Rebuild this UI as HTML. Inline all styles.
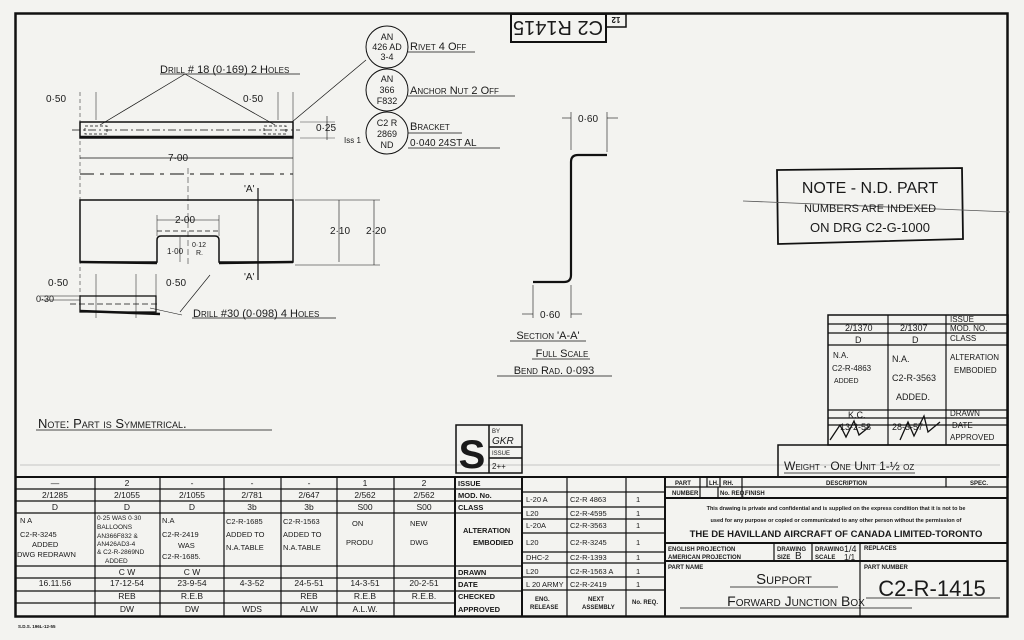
<!DOCTYPE html>
<html><head><meta charset="utf-8"><style>
html,body{margin:0;padding:0;background:#f3f3f0;}
svg{display:block;}
text{font-family:"Liberation Sans",sans-serif;fill:#1a1a1a;}
.h{font-variant:small-caps;font-size:11px;}
.s{font-size:10px;}
.b{font-weight:bold;font-size:7.5px;}
.t{font-size:6px;font-weight:bold;}
</style></head><body>
<svg width="1024" height="640" viewBox="0 0 1024 640" xmlns="http://www.w3.org/2000/svg">
<rect width="1024" height="640" fill="#f3f3f0"/>
<g stroke="#111" fill="none">
<rect x="15.5" y="13.5" width="992" height="603" stroke-width="2.5"/>
<rect x="511" y="14" width="95" height="28" stroke-width="2"/>
<rect x="606" y="14" width="20" height="13" stroke-width="1.5"/>
</g>
<text x="558" y="35" transform="rotate(180 558 28)" text-anchor="middle" font-size="20">C2 R1415</text>
<text x="616" y="24" text-anchor="middle" font-size="8" font-weight="bold" transform="rotate(180 616 20.5)">12</text>

<g stroke="#111" fill="none" stroke-width="1">
<rect x="80" y="122" width="213" height="16" stroke-width="1.5"/>
<line x1="80" y1="137" x2="293" y2="137" stroke-width="2.5"/>
<line x1="72" y1="130" x2="300" y2="130" stroke-dasharray="8,3,2,3" stroke-width="0.7"/>
<rect x="85" y="126" width="22" height="8" stroke-dasharray="3,2" stroke-width="0.8"/>
<rect x="264" y="126" width="22" height="8" stroke-dasharray="3,2" stroke-width="0.8"/>
<line x1="185" y1="74" x2="100" y2="125" stroke-width="0.7"/>
<line x1="185" y1="74" x2="275" y2="125" stroke-width="0.7"/>
<line x1="366" y1="60" x2="292" y2="122" stroke-width="0.7"/>
<line x1="80" y1="92" x2="80" y2="300" stroke-width="0.5" stroke-dasharray="4,3"/>
<line x1="96" y1="92" x2="96" y2="120" stroke-width="0.5"/>
<line x1="293" y1="92" x2="293" y2="200" stroke-width="0.5"/>
<line x1="278" y1="92" x2="278" y2="120" stroke-width="0.5"/>
<line x1="80" y1="158" x2="293" y2="158" stroke-width="0.7"/>
<line x1="80" y1="174" x2="293" y2="174" stroke-width="1" stroke-dasharray="14,6,4,6"/>
<line x1="188" y1="168" x2="188" y2="265" stroke-width="0.5" stroke-dasharray="6,3"/>
<line x1="327" y1="116" x2="327" y2="140" stroke-width="0.6"/>
<line x1="300" y1="122" x2="335" y2="122" stroke-width="0.4"/>
<line x1="300" y1="138" x2="335" y2="138" stroke-width="0.4"/>
<path d="M80 200 H293 V262 H219 V240 Q219 236 215 236 H161 Q157 236 157 240 V262 H80 Z" stroke-width="1.5"/>
<line x1="80" y1="262" x2="157" y2="263" stroke-width="2.5"/>
<line x1="219" y1="263" x2="293" y2="262" stroke-width="2.5"/>
<line x1="258" y1="188" x2="258" y2="280" stroke-width="1.2"/>
<line x1="295" y1="200" x2="380" y2="200" stroke-width="0.5"/>
<line x1="295" y1="265" x2="380" y2="265" stroke-width="0.5"/>
<line x1="339" y1="200" x2="339" y2="262" stroke-width="0.6"/>
<line x1="374" y1="200" x2="374" y2="265" stroke-width="0.6"/>
<line x1="157" y1="220" x2="219" y2="220" stroke-width="0.6"/>
<line x1="157" y1="231" x2="219" y2="231" stroke-width="0.8" stroke-dasharray="5,3"/>
<line x1="157" y1="215" x2="157" y2="236" stroke-width="0.5"/>
<line x1="219" y1="215" x2="219" y2="236" stroke-width="0.5"/>
<line x1="180" y1="237" x2="180" y2="262" stroke-width="0.5"/>
<line x1="210" y1="275" x2="180" y2="312" stroke-width="0.6"/>
<rect x="80" y="296" width="76" height="16" stroke-width="1.3"/>
<line x1="80" y1="311" x2="160" y2="314" stroke-width="2.5"/>
<line x1="96" y1="274" x2="96" y2="318" stroke-width="0.5"/>
<line x1="136" y1="274" x2="136" y2="318" stroke-width="0.5"/>
<line x1="156" y1="274" x2="156" y2="296" stroke-width="0.5"/>
<line x1="70" y1="304" x2="160" y2="304" stroke-width="0.7" stroke-dasharray="6,3"/>
<line x1="182" y1="315" x2="150" y2="308" stroke-width="0.6"/>
<line x1="40" y1="296" x2="80" y2="296" stroke-width="0.5"/>
<line x1="40" y1="300" x2="80" y2="300" stroke-width="0.5"/>
<circle cx="387" cy="47" r="21"/>
<circle cx="387" cy="90" r="21"/>
<circle cx="387" cy="133" r="21"/>
<line x1="408" y1="52" x2="475" y2="52" stroke-width="0.7"/>
<line x1="408" y1="96" x2="515" y2="96" stroke-width="0.7"/>
<line x1="408" y1="133" x2="462" y2="133" stroke-width="0.7"/>
<line x1="408" y1="148" x2="500" y2="148" stroke-width="0.7"/>
<line x1="160" y1="74" x2="300" y2="74" stroke-width="0.7"/>
<line x1="192" y1="318" x2="336" y2="318" stroke-width="0.7"/>
<path d="M607 155 H578 Q571 155 571 162 V275 Q571 282 564 282 H533" stroke-width="2.2"/>
<line x1="571" y1="112" x2="571" y2="150" stroke-width="0.6"/>
<line x1="607" y1="112" x2="607" y2="152" stroke-width="0.6"/>
<line x1="533" y1="285" x2="533" y2="318" stroke-width="0.6"/>
<line x1="571" y1="285" x2="571" y2="318" stroke-width="0.6"/>
<line x1="562" y1="118" x2="571" y2="118" stroke-width="0.6"/>
<line x1="607" y1="118" x2="618" y2="118" stroke-width="0.6"/>
<line x1="522" y1="314" x2="533" y2="314" stroke-width="0.6"/>
<line x1="571" y1="314" x2="582" y2="314" stroke-width="0.6"/>
<line x1="510" y1="341" x2="586" y2="341" stroke-width="0.8"/>
<line x1="532" y1="359" x2="590" y2="359" stroke-width="0.8"/>
<line x1="497" y1="376" x2="612" y2="376" stroke-width="0.8"/>
<line x1="36" y1="430" x2="272" y2="430" stroke-width="0.8"/>
<polygon points="777,170 962,168 963,239 778,244" stroke-width="1.8"/>
<line x1="743" y1="201" x2="1010" y2="212" stroke-width="0.8" stroke="#555"/>
<line x1="20" y1="465" x2="1000" y2="465" stroke-width="0.6" stroke="#999"/>
</g>
<text x="160" y="73" class="h">Drill # 18 (0·169) 2 Holes</text>
<text x="46" y="102" class="s">0·50</text>
<text x="243" y="102" class="s">0·50</text>
<text x="316" y="131" class="s">0·25</text>
<text x="168" y="161" class="s">7·00</text>
<text x="244" y="192" class="s">'A'</text>
<text x="244" y="280" class="s">'A'</text>
<text x="175" y="223" class="s">2·00</text>
<text x="167" y="254" font-size="8">1·00</text>
<text x="192" y="247" font-size="7">0·12</text><text x="196" y="255" font-size="7">R.</text>
<text x="330" y="234" class="s">2·10</text>
<text x="366" y="234" class="s">2·20</text>
<text x="48" y="286" class="s">0·50</text>
<text x="166" y="286" class="s">0·50</text>
<text x="36" y="302" font-size="9">0·30</text>
<text x="193" y="317" class="h">Drill #30 (0·098) 4 Holes</text>
<g font-size="9" text-anchor="middle">
<text x="387" y="40">AN</text><text x="387" y="50">426 AD</text><text x="387" y="60">3-4</text>
<text x="387" y="82">AN</text><text x="387" y="93">366</text><text x="387" y="104">F832</text>
<text x="387" y="126">C2 R</text><text x="387" y="137">2869</text><text x="387" y="148">ND</text>
</g>
<text x="410" y="50" class="h">Rivet 4 Off</text>
<text x="410" y="94" class="h">Anchor Nut 2 Off</text>
<text x="410" y="130" class="h">Bracket</text>
<text x="410" y="146" class="s">0·040 24ST AL</text>
<text x="344" y="143" font-size="8">Iss 1</text>
<text x="578" y="122" class="s">0·60</text>
<text x="540" y="318" class="s">0·60</text>
<text x="548" y="339" text-anchor="middle" class="h">Section 'A-A'</text>
<text x="562" y="357" text-anchor="middle" class="h">Full Scale</text>
<text x="554" y="374" text-anchor="middle" class="h">Bend Rad. 0·093</text>
<text x="38" y="428" class="h" style="font-size:13px">Note: Part is Symmetrical.</text>
<text x="870" y="193" text-anchor="middle" font-size="16">NOTE - N.D. PART</text>
<text x="870" y="212" text-anchor="middle" font-size="11">NUMBERS ARE INDEXED</text>
<text x="870" y="232" text-anchor="middle" font-size="13">ON DRG C2-G-1000</text>

<g stroke="#111" fill="none" stroke-width="1.2">
<rect x="828" y="315" width="180" height="130" stroke-width="1.5"/>
<line x1="888" y1="315" x2="888" y2="445"/><line x1="946" y1="315" x2="946" y2="445"/>
<line x1="828" y1="324" x2="1008" y2="324"/><line x1="828" y1="333" x2="1008" y2="333"/>
<line x1="828" y1="345" x2="1008" y2="345"/><line x1="828" y1="410" x2="1008" y2="410"/>
<line x1="828" y1="418" x2="1008" y2="418"/><line x1="828" y1="425" x2="1008" y2="425"/>
<rect x="778" y="445" width="230" height="32" stroke-width="1.5"/>
<line x1="784" y1="473" x2="915" y2="473" stroke-width="0.7"/>
</g>
<g font-size="9">
<text x="950" y="322" font-size="8">ISSUE</text><text x="950" y="331" font-size="8">MOD. NO.</text><text x="950" y="341" font-size="8">CLASS</text>
<text x="950" y="360" font-size="8">ALTERATION</text><text x="954" y="373" font-size="8">EMBODIED</text>
<text x="950" y="416" font-size="8">DRAWN</text><text x="952" y="428" font-size="8">DATE</text><text x="950" y="440" font-size="8">APPROVED</text>
<text x="845" y="331">2/1370</text><text x="900" y="331">2/1307</text>
<text x="855" y="343">D</text><text x="912" y="343">D</text>
<text x="833" y="358" font-size="8">N.A.</text><text x="832" y="371" font-size="8">C2-R-4863</text><text x="834" y="383" font-size="7">ADDED</text>
<text x="892" y="362">N.A.</text><text x="892" y="381">C2-R-3563</text><text x="896" y="400">ADDED.</text>
<text x="848" y="418">K.C.</text><text x="840" y="430">13-2-58</text><text x="892" y="430">28-3-57</text>
<text x="784" y="470" class="h" style="font-size:12px">Weight · One Unit 1-½ oz</text>
</g>
<path d="M830 440 l10 -15 l6 12 l8 -16 l5 14 l10 -8 M900 440 l8 -18 l6 14 l10 -20 l4 16 l12 -10" stroke="#111" fill="none" stroke-width="1.3"/>

<g stroke="#111" fill="none" stroke-width="1.5">
<rect x="456" y="425" width="66" height="48"/>
<line x1="489" y1="425" x2="489" y2="473"/><line x1="489" y1="447" x2="522" y2="447"/><line x1="489" y1="458" x2="522" y2="458"/>
</g>
<text x="472" y="468" text-anchor="middle" font-size="40" font-weight="bold">S</text>
<text x="492" y="433" font-size="6">BY</text><text x="492" y="444" font-size="10" font-style="italic">GKR</text>
<text x="492" y="455" font-size="6">ISSUE</text><text x="492" y="469" font-size="8">2++</text>

<g stroke="#111" fill="none" stroke-width="1.2">
<line x1="15" y1="477" x2="1008" y2="477" stroke-width="2"/>
<line x1="15" y1="489" x2="455" y2="489"/><line x1="15" y1="501" x2="455" y2="501"/><line x1="15" y1="513" x2="455" y2="513"/>
<line x1="15" y1="566" x2="455" y2="566"/><line x1="15" y1="578" x2="455" y2="578"/><line x1="15" y1="591" x2="455" y2="591"/><line x1="15" y1="603" x2="455" y2="603"/>
<line x1="95" y1="477" x2="95" y2="617"/><line x1="160" y1="477" x2="160" y2="617"/><line x1="224" y1="477" x2="224" y2="617"/>
<line x1="281" y1="477" x2="281" y2="617"/><line x1="337" y1="477" x2="337" y2="617"/><line x1="394" y1="477" x2="394" y2="617"/>
<line x1="455" y1="477" x2="455" y2="617" stroke-width="2"/>
<line x1="522" y1="477" x2="522" y2="617" stroke-width="2"/><line x1="567" y1="477" x2="567" y2="617"/><line x1="626" y1="477" x2="626" y2="617"/>
<line x1="665" y1="477" x2="665" y2="617" stroke-width="2"/>
<line x1="455" y1="489" x2="522" y2="489"/><line x1="455" y1="501" x2="522" y2="501"/><line x1="455" y1="513" x2="522" y2="513"/>
<line x1="455" y1="566" x2="522" y2="566"/><line x1="455" y1="578" x2="522" y2="578"/><line x1="455" y1="591" x2="522" y2="591"/>
<line x1="522" y1="492" x2="665" y2="492"/><line x1="522" y1="507" x2="665" y2="507"/><line x1="522" y1="519" x2="665" y2="519"/>
<line x1="522" y1="533" x2="665" y2="533"/><line x1="522" y1="552" x2="665" y2="552"/><line x1="522" y1="563" x2="665" y2="563"/>
<line x1="522" y1="577" x2="665" y2="577"/><line x1="522" y1="590" x2="665" y2="590"/>
<line x1="665" y1="487" x2="1008" y2="487"/><line x1="665" y1="498" x2="1008" y2="498" stroke-width="2"/>
<line x1="665" y1="543" x2="1008" y2="543" stroke-width="2"/><line x1="665" y1="561" x2="1008" y2="561" stroke-width="2"/>
<line x1="700" y1="477" x2="700" y2="498"/><line x1="707" y1="487" x2="707" y2="477"/><line x1="720" y1="477" x2="720" y2="487"/>
<line x1="718" y1="487" x2="718" y2="498"/><line x1="742" y1="477" x2="742" y2="498"/><line x1="946" y1="477" x2="946" y2="487"/>
<line x1="774" y1="543" x2="774" y2="561"/><line x1="812" y1="543" x2="812" y2="561"/><line x1="860" y1="543" x2="860" y2="617"/>
<line x1="680" y1="608" x2="912" y2="608" stroke-width="0.8"/><line x1="730" y1="587" x2="838" y2="587" stroke-width="0.8"/>
<line x1="866" y1="598" x2="1000" y2="598" stroke-width="0.8"/>
</g>
<g class="b">
<text x="458" y="486" class="b">ISSUE</text><text x="458" y="498" class="b">MOD. No.</text><text x="458" y="510" class="b">CLASS</text>
<text x="463" y="533" class="b">ALTERATION</text><text x="473" y="545" class="b">EMBODIED</text>
<text x="458" y="575" class="b">DRAWN</text><text x="458" y="587" class="b">DATE</text><text x="458" y="599" class="b">CHECKED</text><text x="458" y="612" class="b">APPROVED</text>
<text x="535" y="601" class="t">ENG.</text><text x="530" y="609" class="t">RELEASE</text>
<text x="588" y="601" class="t">NEXT</text><text x="582" y="609" class="t">ASSEMBLY</text>
<text x="632" y="604" class="t">No. REQ.</text>
<text x="675" y="485" class="t">PART</text><text x="672" y="495" class="t">NUMBER</text>
<text x="709" y="485" class="t">LH.</text><text x="723" y="485" class="t">RH.</text><text x="720" y="495" class="t">No. REQ.</text>
<text x="826" y="485" class="t">DESCRIPTION</text><text x="970" y="485" class="t">SPEC.</text><text x="745" y="495" class="t">FINISH</text>
<text x="668" y="551" class="t">ENGLISH PROJECTION</text><text x="668" y="559" class="t">AMERICAN PROJECTION</text>
<text x="777" y="551" class="t">DRAWING</text><text x="777" y="559" class="t">SIZE</text><text x="815" y="551" class="t">DRAWING</text><text x="815" y="559" class="t">SCALE</text>
<text x="864" y="550" class="t">REPLACES</text><text x="668" y="569" class="t">PART NAME</text><text x="864" y="569" class="t">PART NUMBER</text>
</g>
<text x="836" y="510" text-anchor="middle" font-size="5.5" font-weight="bold">This drawing is private and confidential and is supplied on the express condition that it is not to be</text>
<text x="836" y="522" text-anchor="middle" font-size="5.5" font-weight="bold">used for any purpose or copied or communicated to any other person without the permission of</text>
<text x="836" y="537" text-anchor="middle" font-size="9.5" font-weight="bold">THE DE HAVILLAND AIRCRAFT OF CANADA LIMITED-TORONTO</text>
<text x="795" y="559" font-size="10">B</text><text x="844" y="552" font-size="9">1/4</text><text x="844" y="560" font-size="8">1/1</text>
<text x="784" y="584" text-anchor="middle" class="h" style="font-size:15px">Support</text>
<text x="796" y="606" text-anchor="middle" class="h" style="font-size:14px">Forward Junction Box</text>
<text x="932" y="596" text-anchor="middle" font-size="22">C2-R-1415</text>
<g font-size="8.5" text-anchor="middle">
<text x="55" y="486">—</text><text x="127" y="486">2</text><text x="192" y="486">-</text><text x="252" y="486">-</text><text x="309" y="486">-</text><text x="365" y="486">1</text><text x="424" y="486">2</text>
<text x="55" y="498">2/1285</text><text x="127" y="498">2/1055</text><text x="192" y="498">2/1055</text><text x="252" y="498">2/781</text><text x="309" y="498">2/647</text><text x="365" y="498">2/562</text><text x="424" y="498">2/562</text>
<text x="55" y="510">D</text><text x="127" y="510">D</text><text x="192" y="510">D</text><text x="252" y="510">3b</text><text x="309" y="510">3b</text><text x="365" y="510">S00</text><text x="424" y="510">S00</text>
<text x="55" y="586">16.11.56</text><text x="127" y="586">17-12-54</text><text x="192" y="586">23-9-54</text><text x="252" y="586">4-3-52</text><text x="309" y="586">24-5-51</text><text x="365" y="586">14-3-51</text><text x="424" y="586">20-2-51</text>
<text x="127" y="575">C W</text><text x="192" y="575">C W</text>
<text x="127" y="599">REB</text><text x="192" y="599">R.E.B</text><text x="309" y="599">REB</text><text x="365" y="599">R.E.B</text><text x="424" y="599">R.E.B.</text>
<text x="127" y="612">DW</text><text x="192" y="612">DW</text><text x="252" y="612">WDS</text><text x="309" y="612">ALW</text><text x="365" y="612">A.L.W.</text>
</g>
<g font-size="7.5">
<text x="20" y="523">N A</text><text x="20" y="537">C2-R-3245</text><text x="32" y="547">ADDED</text><text x="17" y="557">DWG REDRAWN</text>
<text x="97" y="520" font-size="6.5">0·25 WAS 0·30</text><text x="97" y="529" font-size="6.5">BALLOONS</text><text x="97" y="538" font-size="6.5">AN366F832 &amp;</text><text x="97" y="546" font-size="6.5">AN426AD3-4</text><text x="97" y="554" font-size="6.5">&amp; C2-R-2869ND</text><text x="105" y="563" font-size="6.5">ADDED</text>
<text x="162" y="523">N.A</text><text x="162" y="537">C2-R-2419</text><text x="178" y="548">WAS</text><text x="162" y="559">C2-R-1685.</text>
<text x="226" y="524">C2-R-1685</text><text x="226" y="537">ADDED TO</text><text x="226" y="550">N.A.TABLE</text>
<text x="283" y="524">C2-R-1563</text><text x="283" y="537">ADDED TO</text><text x="283" y="550">N.A.TABLE</text>
<text x="352" y="526">ON</text><text x="346" y="545">PRODU</text>
<text x="410" y="526">NEW</text><text x="410" y="545">DWG</text>
<text x="526" y="502">L-20 A</text><text x="570" y="502">C2-R 4863</text><text x="636" y="502">1</text>
<text x="526" y="516">L20</text><text x="570" y="516">C2-R-4595</text><text x="636" y="516">1</text>
<text x="526" y="528">L-20A</text><text x="570" y="528">C2-R-3563</text><text x="636" y="528">1</text>
<text x="526" y="545">L20</text><text x="570" y="545">C2-R-3245</text><text x="636" y="545">1</text>
<text x="526" y="560">DHC-2</text><text x="570" y="560">C2-R-1393</text><text x="636" y="560">1</text>
<text x="526" y="574">L20</text><text x="570" y="574">C2-R-1563 A</text><text x="636" y="574">1</text>
<text x="526" y="587">L 20 ARMY</text><text x="570" y="587">C2-R-2419</text><text x="636" y="587">1</text>
</g>
<text x="18" y="628" font-size="4.5" font-weight="bold">S.D.S. 196L-12-55</text>
</svg>
</body></html>
